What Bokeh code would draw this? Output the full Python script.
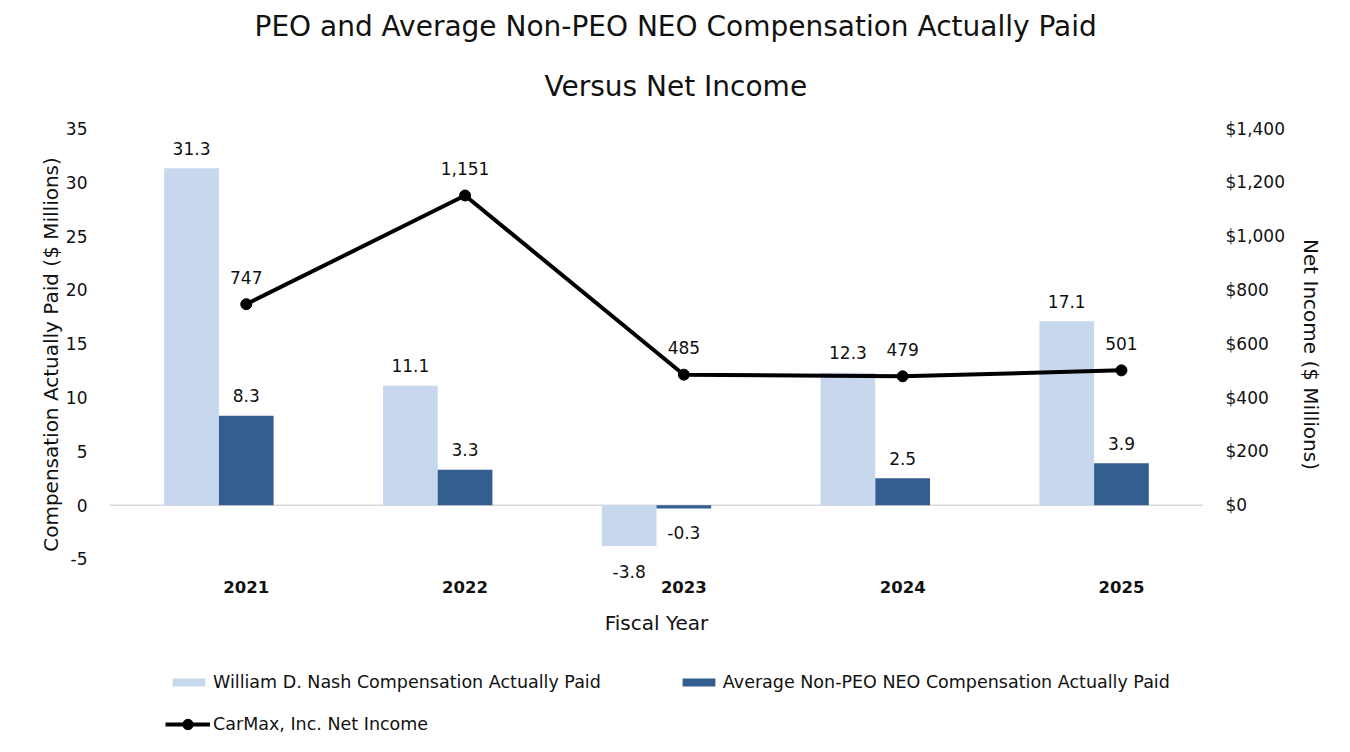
import numpy as np
from bokeh.plotting import figure
from bokeh.layouts import column
from bokeh.models import (Range1d, LinearAxis, FixedTicker, NumeralTickFormatter,
                          Span, Legend, LegendItem, Title, ColumnDataSource)
from bokeh.core.properties import value
from bokeh.embed import file_html
from bokeh.resources import INLINE

# ---- data ----
years = ["2021", "2022", "2023", "2024", "2025"]
peo_cap = [31.3, 11.1, -3.8, 12.3, 17.1]
neo_cap = [8.3, 3.3, -0.3, 2.5, 3.9]
net_income = [747, 1151, 485, 479, 501]
left_ticks = [-5, 0, 5, 10, 15, 20, 25, 30, 35]
left_tick_labels = ["-5", "0", "5", "10", "15", "20", "25", "30", "35"]
right_ticks = [0, 200, 400, 600, 800, 1000, 1200, 1400]
series_names = ["William D. Nash Compensation Actually Paid",
                "Average Non-PEO NEO Compensation Actually Paid",
                "CarMax, Inc. Net Income"]

FONT = "DejaVu Sans"
LIGHT = "#C6D7EE"
DARK = "#345E90"
TXT = "#111111"

idx = np.arange(len(years))
x_peo = idx + 0.375
x_neo = idx + 0.625
x_line = idx + 0.625

p = figure(frame_width=1094, frame_height=452, x_range=Range1d(0, 5), y_range=Range1d(-7, 35),
           output_backend="svg", toolbar_location=None, title=None,
           min_border_left=109, min_border_right=131, min_border_top=128,
           min_border_bottom=62)
p.outline_line_color = None
p.background_fill_color = "white"
p.border_fill_color = "white"
p.xgrid.grid_line_color = None
p.ygrid.grid_line_color = None

# titles (first added is closest to the frame)
t2 = Title(text="Versus Net Income", align="left", text_font=FONT,
           text_font_size="28px", text_font_style="normal", text_color=TXT,
           standoff=51, offset=435)
t1 = Title(text="PEO and Average Non-PEO NEO Compensation Actually Paid", align="left",
           text_font=FONT, text_font_size="28px", text_font_style="normal",
           text_color=TXT, standoff=0, offset=145)
p.add_layout(t2, "above")
p.add_layout(t1, "above")

# zero line
p.add_layout(Span(location=0, dimension="width", line_color="#D9D9D9",
                  line_width=1.5, level="underlay"))

src = ColumnDataSource(dict(
    x_peo=x_peo, x_neo=x_neo, x_line=x_line,
    peo=peo_cap, neo=neo_cap, ni=net_income,
    peo_lbl=[f"{v:.1f}" for v in peo_cap],
    neo_lbl=[f"{v:.1f}" for v in neo_cap],
    ni_lbl=[f"{v:,}" for v in net_income],
    peo_off=[-20 if v >= 0 else 25 for v in peo_cap],
    neo_off=[-20 if v >= 0 else 24 for v in neo_cap],
))

bar_peo = dict(x="x_peo", top="peo", bottom=0, width=0.25, source=src,
               fill_color=LIGHT, line_color=None)
bar_neo = dict(x="x_neo", top="neo", bottom=0, width=0.25, source=src,
               fill_color=DARK, line_color=None)
line_kw = dict(x="x_line", y="ni", source=src, line_color="black", line_width=4)
pts_kw = dict(x="x_line", y="ni", source=src, size=11, fill_color="black",
              line_color="black")

r_peo = p.vbar(**bar_peo)
r_neo = p.vbar(**bar_neo)

p.text(x="x_peo", y="peo", text="peo_lbl", y_offset="peo_off", source=src,
       text_align="center", text_baseline="middle", text_font=value(FONT),
       text_font_size="17px", text_color=TXT)
p.text(x="x_neo", y="neo", text="neo_lbl", y_offset="neo_off", source=src,
       text_align="center", text_baseline="middle", text_font=value(FONT),
       text_font_size="17px", text_color=TXT)

# secondary axis
p.extra_y_ranges = {"ni": Range1d(-280, 1400)}
r_line = p.line(y_range_name="ni", **line_kw)
r_pts = p.scatter(y_range_name="ni", **pts_kw)
p.text(x="x_line", y="ni", text="ni_lbl", y_offset=-27, source=src,
       y_range_name="ni", text_align="center", text_baseline="middle",
       text_font=value(FONT), text_font_size="17px", text_color=TXT)

# axes
xa = p.xaxis[0]
xa.ticker = FixedTicker(ticks=list(x_line))
xa.major_label_overrides = {float(x): y for x, y in zip(x_line, years)}
xa.axis_label = "Fiscal Year"

ya = p.yaxis[0]
ya.ticker = FixedTicker(ticks=left_ticks)
ya.major_label_overrides = {t: s for t, s in zip(left_ticks, left_tick_labels)}
ya.axis_label = "Compensation Actually Paid ($ Millions)"

yr = LinearAxis(y_range_name="ni", ticker=FixedTicker(ticks=right_ticks),
                formatter=NumeralTickFormatter(format="$0,0"),
                axis_label="Net Income ($ Millions)")
p.add_layout(yr, "right")

for ax in (xa, ya, yr):
    ax.axis_line_color = None
    ax.major_tick_line_color = None
    ax.minor_tick_line_color = None
    ax.major_tick_out = 0
    ax.major_tick_in = 0
    ax.minor_tick_out = 0
    ax.major_label_text_font = FONT
    ax.major_label_text_font_size = "17px"
    ax.major_label_text_color = TXT
    ax.axis_label_text_font = FONT
    ax.axis_label_text_font_size = "20px"
    ax.axis_label_text_font_style = "normal"
    ax.axis_label_text_color = TXT

xa.major_label_text_font_style = "bold"
xa.major_label_text_font_size = "16.5px"
xa.major_label_standoff = 0
xa.axis_label_standoff = 15
ya.major_label_standoff = 22
ya.axis_label_standoff = 0
yr.major_label_standoff = 22
yr.axis_label_standoff = 11

# ---- legend strip below the chart (its frame is aligned with the chart's) ----
lp = figure(width=1334, height=100, x_range=Range1d(0, 5), y_range=Range1d(5000, 5001),
            output_backend="svg", toolbar_location=None, min_border=0,
            x_axis_type=None, y_axis_type=None)
lp.grid.visible = False
lp.outline_line_color = None
lp.background_fill_color = "white"
lp.border_fill_color = "white"

# proxies of the chart's series (outside the strip's visible range)
g_peo = lp.vbar(**bar_peo)
g_neo = lp.vbar(**bar_neo)
g_line = lp.line(**line_kw)
g_pts = lp.scatter(**pts_kw)

common = dict(orientation="horizontal", padding=0, margin=0,
              border_line_color=None, background_fill_alpha=0,
              label_text_font=FONT, label_text_font_size="17.5px",
              label_text_color=TXT, label_height=20)
leg1 = Legend(items=[LegendItem(label=series_names[0], renderers=[g_peo]),
                     LegendItem(label=series_names[1], renderers=[g_neo])],
              location=(59, 50), spacing=77, glyph_width=41, glyph_height=10,
              label_standoff=4, **common)
leg2 = Legend(items=[LegendItem(label=series_names[2], renderers=[g_line, g_pts])],
              location=(56, 5), glyph_width=45, glyph_height=26,
              label_standoff=3, **common)
lp.add_layout(leg1)
lp.add_layout(leg2)

layout = column(p, lp, spacing=0)
open("out.html", "w").write(file_html(layout, INLINE))
